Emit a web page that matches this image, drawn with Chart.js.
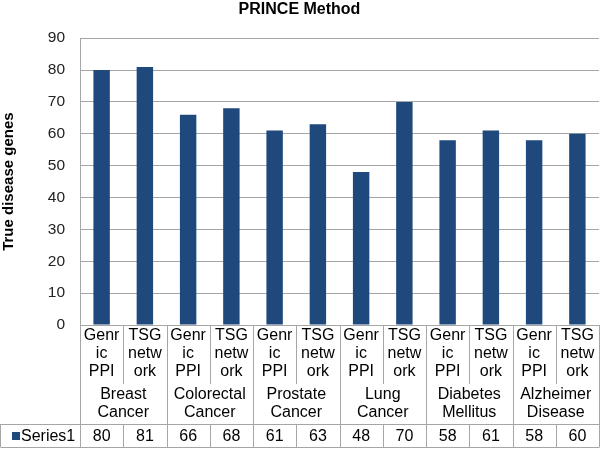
<!DOCTYPE html>
<html>
<head>
<meta charset="utf-8">
<script src="https://cdn.jsdelivr.net/npm/chart.js@4.4.0/dist/chart.umd.min.js"></script>
<style>
body { margin: 0; background: #fff; }
#wrap { width: 600px; height: 450px; }
</style>
</head>
<body>
<div id="wrap"><canvas id="grafico" width="600" height="450"></canvas></div>
<script>
// datos del grafico
var grupos = [['Breast', 'Cancer'], ['Colorectal', 'Cancer'], ['Prostate', 'Cancer'],
              ['Lung', 'Cancer'], ['Diabetes', 'Mellitus'], ['Alzheimer', 'Disease']];
var metodos = [['Genr', 'ic', 'PPI'], ['TSG', 'netw', 'ork']];
var valores = [80, 81, 66, 68, 61, 63, 48, 70, 58, 61, 58, 60];
var serie = 'Series1';
var titulo = 'PRINCE Method';
var tituloY = 'True disease genes';
var yMin = 0, yMax = 90, yPaso = 10;

var etiquetas = [];
for (var g = 0; g < grupos.length; g++) {
    for (var m = 0; m < metodos.length; m++) {
        etiquetas.push(metodos[m].join('') + ' / ' + grupos[g].join(' '));
    }
}

var azul = '#1f497d';
var gris = '#a6a6a6';
var fuente = '"Liberation Sans", Arial, sans-serif';

// tabla de datos debajo del eje x
const tablaPlugin = {
    id: 'tabla',
    afterDraw(chart) {
        const c = chart.ctx;
        const ejeX = chart.scales.x;
        const area = chart.chartArea;
        const n = valores.length;
        const ancho = (area.right - area.left) / n;
        const top = area.bottom;
        const filaSub = top + 59;
        const filaGrupo = top + 99;
        const fondo = top + 122;

        c.save();
        c.strokeStyle = gris;
        c.lineWidth = 1;
        c.beginPath();
        for (let i = 0; i <= n; i++) {
            const px = Math.round(area.left + i * ancho) + 0.5;
            if (i % 2 == 1) {
                c.moveTo(px, top); c.lineTo(px, filaSub);
                c.moveTo(px, filaGrupo); c.lineTo(px, fondo);
            } else {
                c.moveTo(px, top); c.lineTo(px, fondo);
            }
        }
        c.moveTo(0.5, filaGrupo + 0.5); c.lineTo(area.right + 0.5, filaGrupo + 0.5);
        c.moveTo(0.5, fondo + 0.5); c.lineTo(area.right + 0.5, fondo + 0.5);
        c.moveTo(0.5, filaGrupo); c.lineTo(0.5, fondo);
        c.stroke();

        c.fillStyle = '#000';
        c.font = '16px ' + fuente;
        c.textAlign = 'center';
        c.textBaseline = 'middle';
        for (let i = 0; i < n; i++) {
            const cx = ejeX.getPixelForValue(i);
            const lineas = metodos[i % 2];
            for (let k = 0; k < lineas.length; k++) {
                c.fillText(lineas[k], cx, top + 11 + k * 18);
            }
            c.fillText(String(valores[i]), cx, top + 111.5);
        }
        for (let g = 0; g < grupos.length; g++) {
            const cx = area.left + (2 * g + 1) * ancho;
            c.fillText(grupos[g][0], cx, top + 70);
            c.fillText(grupos[g][1], cx, top + 88);
        }
        c.fillStyle = azul;
        c.fillRect(12, top + 107, 8, 8);
        c.fillStyle = '#000';
        c.textAlign = 'left';
        c.fillText(serie, 21, top + 111.5);
        c.restore();
    }
};

const ctx = document.getElementById('grafico').getContext('2d');
const myChart = new Chart(ctx, {
    type: 'bar',
    data: {
        labels: etiquetas,
        datasets: [{
            label: serie,
            data: valores,
            backgroundColor: azul,
            borderWidth: 0,
            categoryPercentage: 1,
            barPercentage: 0.38
        }]
    },
    options: {
        responsive: false,
        animation: false,
        layout: { padding: { top: 0, right: 1, bottom: 125, left: 0 } },
        plugins: {
            legend: { display: false },
            tooltip: { enabled: false },
            title: {
                display: true,
                text: titulo,
                color: '#000',
                font: { family: fuente, size: 16, weight: 'bold' },
                padding: { top: 0, bottom: 19 }
            }
        },
        scales: {
            x: { display: false },
            y: {
                min: yMin,
                max: yMax,
                afterFit(scale) { scale.width = 80; },
                ticks: {
                    stepSize: yPaso,
                    padding: 15,
                    color: '#222',
                    font: { family: fuente, size: 15.5 }
                },
                grid: { color: gris, drawTicks: false },
                border: { color: gris },
                title: {
                    display: true,
                    text: tituloY,
                    color: '#000',
                    font: { family: fuente, size: 15, weight: 'bold' },
                    padding: { top: 0, bottom: 0 }
                }
            }
        }
    },
    plugins: [tablaPlugin]
});
</script>
</body>
</html>
